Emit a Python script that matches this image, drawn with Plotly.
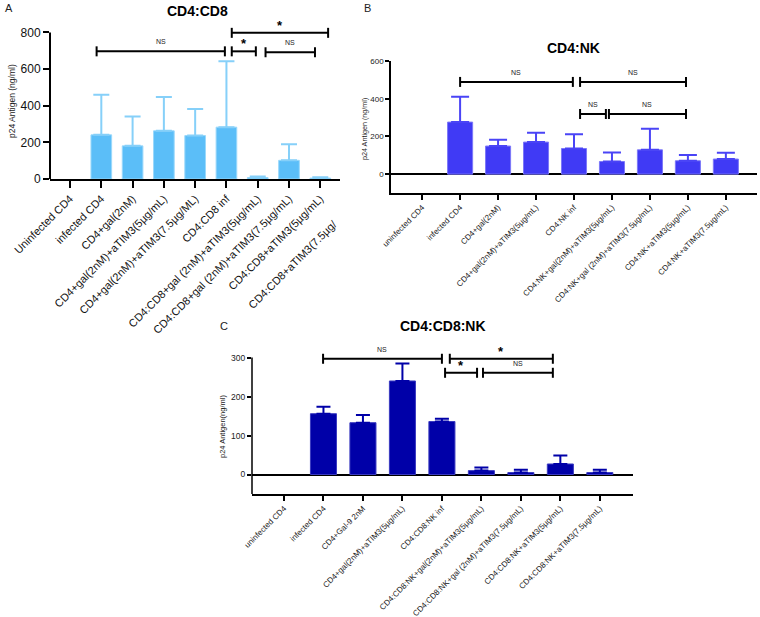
import plotly.graph_objects as go

FONT = "Liberation Sans, Arial, sans-serif"

# ---------------- Panel A: CD4:CD8 ----------------
cats_a = ["Uninfected CD4", "infected CD4", "CD4+gal(2nM)",
          "CD4+gal(2nM)+aTIM3(5µg/mL)", "CD4+gal(2nM)+aTIM3(7.5µg/ML)",
          "CD4:CD8 inf", "CD4:CD8+gal (2nM)+aTIM3(5µg/mL)",
          "CD4:CD8+gal (2nM)+aTIM3(7.5µg/mL)", "CD4:CD8+aTIM3(5µg/mL)"]
cut_label_a = "CD4:CD8+aTIM3(7.5µg/"
mean_a = [0, 241, 181, 263, 237, 283, 8, 102, 5]
upper_a = [0, 460, 341, 448, 382, 643, 14, 190, 9]
yticks_a = [0, 200, 400, 600, 800]
brackets_a = [(0.85, 4.95, 697, "NS"), (5.17, 8.25, 798, "*"),
              (5.17, 5.94, 697, "*"), (6.25, 7.83, 692, "NS")]

# ---------------- Panel B: CD4:NK ----------------
cats_b = ["uninfected CD4", "infected CD4", "CD4+gal(2nM)",
          "CD4+gal(2nM)+aTIM3(5µg/mL)", "CD4:NK inf",
          "CD4:NK+gal(2nM)+aTIM3(5µg/mL)", "CD4:NK+gal (2nM)+aTIM3(7.5µg/mL)",
          "CD4:NK+aTIM3(5µg/mL)", "CD4:NK+aTIM3(7.5µg/mL)"]
mean_b = [0, 276, 149, 170, 136, 67, 129, 71, 80]
upper_b = [0, 410, 182, 219, 211, 115, 241, 101, 113]
yticks_b = [0, 200, 400, 600]
brackets_b = [(1.0, 3.97, 489, "NS"), (4.16, 6.95, 489, "NS"),
              (4.16, 4.84, 319, "NS"), (4.92, 6.95, 319, "NS")]

# ---------------- Panel C: CD4:CD8:NK ----------------
cats_c = ["uninfected CD4", "infected CD4", "CD4+Gal-9 2nM",
          "CD4+gal(2nM)+aTIM3(5µg/mL)", "CD4:CD8:NK inf",
          "CD4:CD8:NK+gal(2nM)+aTIM3(5µg/mL)",
          "CD4:CD8:NK+gal (2nM)+aTIM3(7.5µg/mL)",
          "CD4:CD8:NK+aTIM3(5µg/mL)", "CD4:CD8:NK+aTIM3(7.5µg/mL)"]
mean_c = [0, 156, 133, 240, 136, 10, 5, 27, 5]
upper_c = [0, 174, 153, 285, 143, 18, 12, 49, 12]
yticks_c = [0, 100, 200, 300]
brackets_c = [(0.99, 4.0, 297, "NS"), (4.2, 6.81, 297, "*"),
              (4.08, 4.89, 261, "*"), (5.04, 6.81, 261, "NS")]

W, H = 760, 617
def px_x(p): return p / W
def px_y(p): return 1 - p / H

fig = go.Figure()

panels = [
    dict(x="x", y="y", cats=cats_a, mean=mean_a, upper=upper_a,
         color="#5BBEF8", edge="#9AD8FB", ecolor="#86D0F9", ew=8),
    dict(x="x2", y="y2", cats=cats_b, mean=mean_b, upper=upper_b,
         color="#403AF5", edge="#7C78F8", ecolor="#4A44F6", ew=9),
    dict(x="x3", y="y3", cats=cats_c, mean=mean_c, upper=upper_c,
         color="#0000A8", edge="#3A3AC0", ecolor="#0000A8", ew=7),
]
for p in panels:
    # zero-valued groups (uninfected) have no visible bar
    idx = [i for i, m in enumerate(p["mean"]) if m > 0]
    ys = [p["mean"][i] for i in idx]
    errs = [p["upper"][i] - p["mean"][i] for i in idx]
    fig.add_trace(go.Bar(
        x=idx, y=ys, xaxis=p["x"], yaxis=p["y"], width=0.66,
        marker=dict(color=p["color"], line=dict(color=p["edge"], width=1)),
        error_y=dict(type="data", symmetric=False, array=errs,
                     arrayminus=[0] * len(idx),
                     color=p["ecolor"], thickness=2, width=p["ew"]),
        showlegend=False, hoverinfo="skip"))

xr_a = [-0.64, 8.63]
xr_b = [-0.82, 8.82]
xr_c = [-0.81, 8.84]

common_x = dict(showgrid=False, zeroline=False, tickmode="array",
                tickangle=-45, ticks="outside", showline=True,
                linecolor="black", tickcolor="black", automargin=False)
common_y = dict(showgrid=False, tickmode="array", ticks="outside",
                linecolor="black", tickcolor="black", automargin=False)

fig.update_layout(
    width=W, height=H, margin=dict(l=0, r=0, t=0, b=0, pad=0, autoexpand=False),
    plot_bgcolor="white", paper_bgcolor="white",
    font=dict(family=FONT, color="black"),
    showlegend=False,
    xaxis=dict(common_x, domain=[px_x(50), px_x(340)], range=xr_a,
               tickvals=list(range(len(cats_a))), ticktext=cats_a,
               ticklen=7, tickwidth=2, linewidth=2, anchor="y",
               tickfont=dict(size=11, color="#111")),
    yaxis=dict(common_y, domain=[px_y(179), px_y(5)], range=[0, 950],
               tickvals=yticks_a, ticklen=6, tickwidth=2, showline=False,
               zeroline=False, anchor="x", tickfont=dict(size=12, color="#111")),
    xaxis2=dict(common_x, domain=[px_x(391), px_x(757)], range=xr_b,
                tickvals=list(range(len(cats_b))), ticktext=cats_b,
                ticklen=5, tickwidth=1.5, linewidth=1.5, anchor="y2",
                tickfont=dict(size=8, color="#222")),
    yaxis2=dict(common_y, domain=[px_y(193), px_y(61)], range=[-100, 600],
                tickvals=yticks_b, ticklen=4, tickwidth=1.5, showline=True,
                linewidth=1.5, zeroline=True, zerolinecolor="black",
                zerolinewidth=1.5, anchor="x2", tickfont=dict(size=8, color="#222")),
    xaxis3=dict(common_x, domain=[px_x(252), px_x(633)], range=xr_c,
                tickvals=list(range(len(cats_c))), ticktext=cats_c,
                ticklen=5, tickwidth=1.5, linewidth=1.5, anchor="y3",
                tickfont=dict(size=8, color="#222")),
    yaxis3=dict(common_y, domain=[px_y(494), px_y(342)], range=[-50, 340],
                tickvals=yticks_c, ticklen=4, tickwidth=1.5, showline=False,
                zeroline=True, zerolinecolor="black", zerolinewidth=1.5,
                anchor="x3", tickfont=dict(size=8.5, color="#222")),
)

shapes = []
annotations = []

# y-axis lines for panels A and C (stop at top tick)
shapes.append(dict(type="line", xref="x domain", yref="y", x0=0, x1=0,
                   y0=0, y1=yticks_a[-1], line=dict(color="black", width=2)))
shapes.append(dict(type="line", xref="x3 domain", yref="y3", x0=0, x1=0,
                   y0=-50, y1=yticks_c[-1], line=dict(color="black", width=1.5)))

def add_brackets(brs, xr, yr):
    for x0, x1, yv, lab in brs:
        shapes.append(dict(type="line", xref=xr, yref=yr, x0=x0, x1=x1,
                           y0=yv, y1=yv, line=dict(color="black", width=2)))
        for xe in (x0, x1):
            shapes.append(dict(type="line", xref=xr, yref=yr, x0=xe, x1=xe,
                               ysizemode="pixel", yanchor=yv, y0=-5, y1=5,
                               line=dict(color="black", width=2)))
        if lab == "*":
            annotations.append(dict(xref=xr, yref=yr, x=(x0 + x1) / 2, y=yv,
                                    text="<b>*</b>", showarrow=False,
                                    yanchor="bottom", yshift=-2,
                                    font=dict(size=13, color="black")))
        else:
            annotations.append(dict(xref=xr, yref=yr, x=(x0 + x1) / 2, y=yv,
                                    text=lab, showarrow=False,
                                    yanchor="bottom", yshift=4,
                                    font=dict(size=7, color="#222")))

add_brackets(brackets_a, "x", "y")
add_brackets(brackets_b, "x2", "y2")
add_brackets(brackets_c, "x3", "y3")

# last category label of panel A, cropped at the panel edge in the original
annotations.append(dict(xref="x domain", yref="y domain",
                        x=(len(cats_a) - xr_a[0]) / (xr_a[1] - xr_a[0]), y=0,
                        text=cut_label_a, showarrow=False, textangle=-45,
                        xanchor="right", yanchor="top", xshift=-9, yshift=-36,
                        font=dict(size=11, color="#111")))

# panel letters and titles
for txt, x, y, size in [("A", 3, 8, 11), ("B", 362, 8, 11), ("C", 218, 326, 11)]:
    annotations.append(dict(xref="paper", yref="paper", x=px_x(x), y=px_y(y),
                            text=txt, showarrow=False, xanchor="left",
                            yanchor="middle", font=dict(size=size, color="#222")))
for txt, x, y in [("CD4:CD8", 198, 11), ("CD4:NK", 573, 48), ("CD4:CD8:NK", 443, 326)]:
    annotations.append(dict(xref="paper", yref="paper", x=px_x(x), y=px_y(y),
                            text="<b>" + txt + "</b>", showarrow=False,
                            xanchor="center", yanchor="middle",
                            font=dict(size=14, color="black")))
# y-axis titles
for txt, x, y, size in [("p24 Antigen (ng/ml)", 12, 101, 8.5),
                        ("p24 Antigen (ng/ml)", 364, 129, 7.2),
                        ("p24 Antigen(ng/ml)", 222, 427, 7.5)]:
    annotations.append(dict(xref="paper", yref="paper", x=px_x(x), y=px_y(y),
                            text=txt, showarrow=False, textangle=-90,
                            xanchor="center", yanchor="middle",
                            font=dict(size=size, color="#222")))

fig.update_layout(shapes=shapes, annotations=annotations)
fig.write_html("out.html", config={"displayModeBar": False},
               post_script="document.body.style.margin='0';document.body.style.padding='0';")
